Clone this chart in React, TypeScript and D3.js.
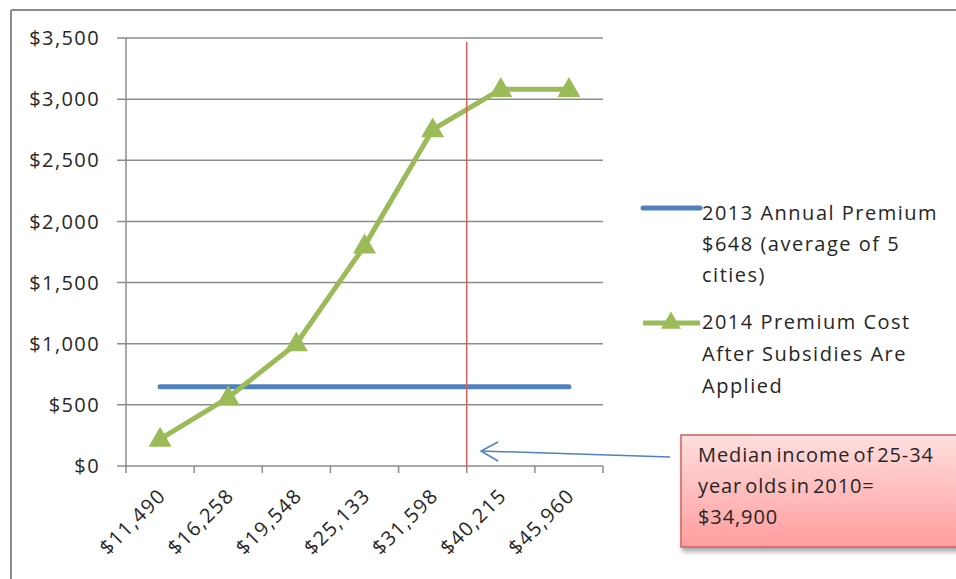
import React from "react";
import * as d3 from "d3";

const incomes = ["$11,490", "$16,258", "$19,548", "$25,133", "$31,598", "$40,215", "$45,960"];
const premium2013 = [648, 648, 648, 648, 648, 648, 648];
const premium2014 = [220, 560, 1000, 1800, 2750, 3080, 3080];
const yTicks = [0, 500, 1000, 1500, 2000, 2500, 3000, 3500];
const legend2013 = ["2013 Annual Premium", "$648 (average of 5", "cities)"];
const legend2014 = ["2014 Premium Cost", "After Subsidies Are", "Applied"];
const noteLines = ["Median income of 25-34", "year olds in 2010=", "$34,900"];
const medianCategory = "$40,215"; // median falls at the left edge of this bin

const W = 956;
const H = 579;
const font = "'Open Sans', sans-serif";
const txt = "#262626";
const grid = "#8c8c8c";
const blue = "#4f81bd";
const green = "#9bbb59";

const App = () => {
    const x = d3.scaleBand<string>().domain(incomes).range([126, 603]).padding(0);
    const y = d3.scaleLinear().domain([0, 3500]).range([466, 38]);
    const cx = (c: string) => (x(c) as number) + x.bandwidth() / 2;

    const line = d3.line<number>()
        .x((_, i) => cx(incomes[i]))
        .y(d => y(d));

    const tri = d3.symbol().type(d3.symbolTriangle).size(230)() as string;
    const fmt = d3.format("$,");
    const medX = x(medianCategory) as number;

    return (
        <svg width={W} height={H} style={{ position: "absolute", left: 0, top: 0, background: "#fff" }}
            fontFamily={font}>
            <defs>
                <linearGradient id="noteFill" x1="0" y1="0" x2="0" y2="1">
                    <stop offset="0" stopColor="#ffdede" />
                    <stop offset="1" stopColor="#ff9d9d" />
                </linearGradient>
                <filter id="shadow" x="-10%" y="-10%" width="130%" height="140%">
                    <feDropShadow dx="2" dy="4" stdDeviation="2.5" floodColor="#000" floodOpacity="0.35" />
                </filter>
            </defs>

            {/* outer frame */}
            <line x1={11} y1={10} x2={W} y2={10} stroke="#8a8a8a" strokeWidth={2} />
            <line x1={11} y1={10} x2={11} y2={H} stroke="#8a8a8a" strokeWidth={2} />

            {/* gridlines + y labels */}
            {yTicks.map(t => (
                <g key={t}>
                    <line x1={117} x2={603} y1={y(t)} y2={y(t)} stroke={grid} strokeWidth={1.5} />
                    <text x={100} y={y(t)} dy="0.36em" textAnchor="end" fontSize={20}
                        letterSpacing={1.4} fill={txt}>{fmt(t)}</text>
                </g>
            ))}
            <line x1={126} x2={126} y1={38} y2={466} stroke={grid} strokeWidth={1.5} />

            {/* x ticks */}
            {[...incomes.map(c => x(c) as number), 603].map((v, i) => (
                <line key={i} x1={v} x2={v} y1={466} y2={473} stroke={grid} strokeWidth={1.5} />
            ))}
            {incomes.map(c => (
                <text key={c} transform={`translate(${cx(c) + 7},${497}) rotate(-45)`} textAnchor="end"
                    fontSize={20} letterSpacing={1.4} fill={txt}>{c}</text>
            ))}

            {/* series */}
            <path d={line(premium2013) as string} fill="none" stroke={blue} strokeWidth={5} strokeLinecap="round" />
            <path d={line(premium2014) as string} fill="none" stroke={green} strokeWidth={5} strokeLinejoin="round" />
            {premium2014.map((v, i) => (
                <path key={i} d={tri} transform={`translate(${cx(incomes[i])},${y(v) + 1})`} fill={green} />
            ))}

            {/* median marker */}
            <line x1={medX} x2={medX} y1={42} y2={468} stroke="#d9605c" strokeWidth={1.5} />

            {/* legend */}
            <line x1={643} x2={700} y1={208} y2={208} stroke={blue} strokeWidth={5} strokeLinecap="round" />
            {legend2013.map((s, i) => (
                <text key={s} x={702} y={220 + i * 31} fontSize={20} letterSpacing={1.5} fill={txt}>{s}</text>
            ))}
            <line x1={643} x2={700} y1={323} y2={323} stroke={green} strokeWidth={5} />
            <path d={d3.symbol().type(d3.symbolTriangle).size(170)() as string}
                transform="translate(671,323)" fill={green} />
            {legend2014.map((s, i) => (
                <text key={s} x={702} y={329 + i * 32} fontSize={20} letterSpacing={1.5} fill={txt}>{s}</text>
            ))}

            {/* annotation */}
            <line x1={670} y1={457} x2={481} y2={451} stroke={blue} strokeWidth={1.5} />
            <polyline points="498,442 481,451 498,461" fill="none" stroke={blue} strokeWidth={1.5} />
            <rect x={681} y={435} width={300} height={112} fill="url(#noteFill)" stroke="#c9625f"
                strokeWidth={1.5} filter="url(#shadow)" />
            {noteLines.map((s, i) => (
                <text key={s} x={698} y={462 + i * 31} fontSize={20} letterSpacing={0.9} wordSpacing={-3}
                    fill={txt}>{s}</text>
            ))}
        </svg>
    );
};

export default App;
